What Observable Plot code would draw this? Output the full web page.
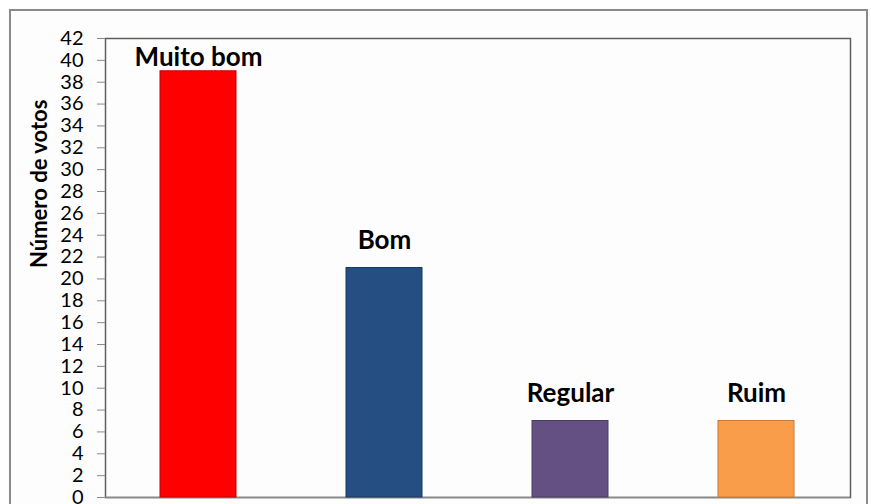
<!DOCTYPE html>
<html>
<head>
<meta charset="utf-8">
<script src="https://cdn.jsdelivr.net/npm/d3@7"></script>
<script src="https://cdn.jsdelivr.net/npm/@observablehq/plot@0.6"></script>
<style>
  html, body { margin: 0; padding: 0; background: #ffffff; }
  #wrap { position: relative; width: 871px; height: 504px; overflow: hidden; }
  #border { position: absolute; left: 9px; top: 9px; width: 859px; height: 520px; border: 2px solid #8a8a8a; background: #fdfdfd; box-sizing: border-box; }
  #chart { position: absolute; left: 0; top: 0; }
  #chart svg { background: transparent; }
</style>
</head>
<body>
<div id="wrap"><div id="border"></div><div id="chart"></div></div>
<script>
const categories = ["Muito bom", "Bom", "Regular", "Ruim"];
const votos = [39, 21, 7, 7];
const colors = ["#FF0000", "#254E82", "#655083", "#FA9D4B"];
const strokes = ["#C00000", "#1A3A63", "#4B3B62", "#C97A35"];
const yTicks = d3.range(0, 43, 2);
const yLabel = "Número de votos";

const data = categories.map((c, i) => ({categoria: c, votos: votos[i], cor: colors[i], borda: strokes[i]}));

const chart = Plot.plot({
  width: 871,
  height: 504,
  marginLeft: 105,
  marginRight: 21,
  marginTop: 38,
  marginBottom: 7,
  style: {fontFamily: "Lato, 'Open Sans', sans-serif", background: "transparent", overflow: "visible"},
  x: {type: "band", domain: categories, paddingInner: 0.59, paddingOuter: 0.295, axis: null},
  y: {domain: [0, 42], axis: null},
  marks: [
    Plot.frame({stroke: "#5f5f5f", strokeWidth: 1.5}),
    Plot.axisY({ticks: yTicks, tickSize: 8, tickPadding: 14, tickFormat: d => String(d), fontSize: 20, stroke: "#8a8a8a", color: "#000", label: null}),
    Plot.ruleY([0], {stroke: "#8a8a8a", strokeWidth: 1.5}),
    Plot.barY(data, {x: "categoria", y: "votos", fill: "cor", stroke: "borda", strokeWidth: 1}),
    Plot.text(data, {x: "categoria", y: d => Math.min(d.votos, 37.7), text: "categoria", dy: -19, lineAnchor: "bottom", fontSize: 26, fontWeight: "bold", fill: "#000"}),
    Plot.text([yLabel], {frameAnchor: "left", dx: -66, rotate: -90, text: d => d, fontSize: 22, fontWeight: "bold", fill: "#000"})
  ]
});
document.getElementById("chart").appendChild(chart);
</script>
</body>
</html>
